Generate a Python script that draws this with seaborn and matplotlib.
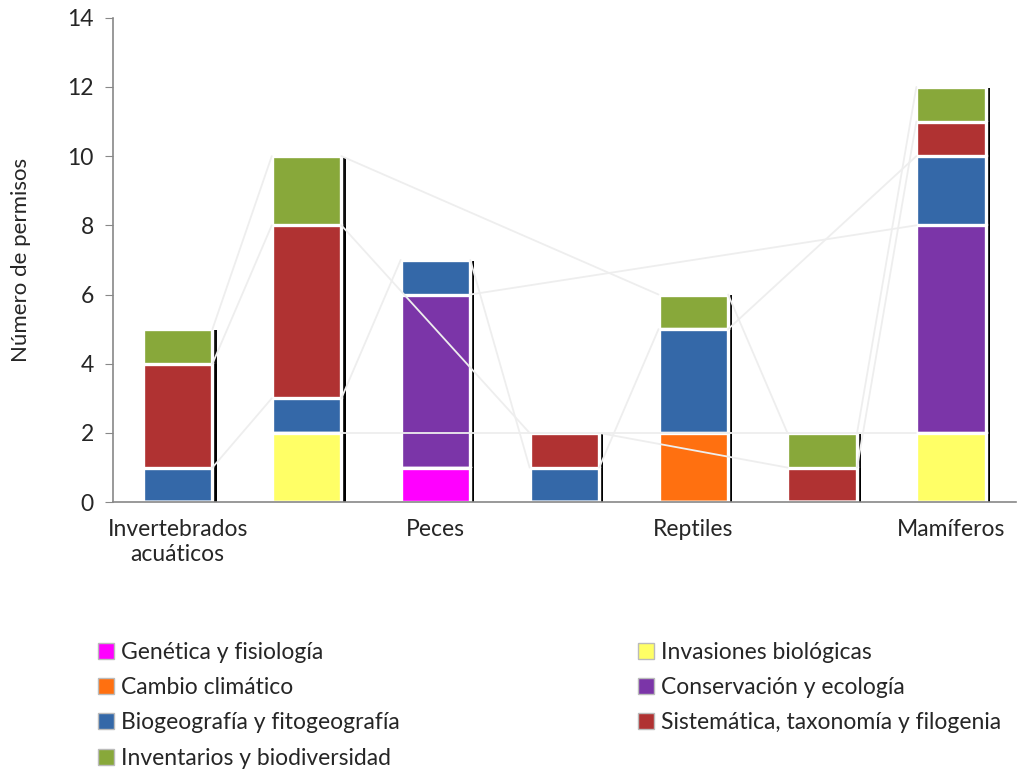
import numpy as np
import pandas as pd
import seaborn as sns
import matplotlib.pyplot as plt
import matplotlib.patheffects as pe
from matplotlib.patches import Patch

# categorias (solo se ven algunas etiquetas en el eje)
categorias = ["Invertebrados acuáticos", "Invertebrados terrestres", "Peces",
              "Anfibios", "Reptiles", "Aves", "Mamíferos"]
etiquetas_x = ["Invertebrados\nacuáticos", "", "Peces", "", "Reptiles", "", "Mamíferos"]

series = ["Genética y fisiología", "Invasiones biológicas", "Cambio climático",
          "Conservación y ecología", "Biogeografía y fitogeografía",
          "Sistemática, taxonomía y filogenia", "Inventarios y biodiversidad"]

genetica     = [0, 0, 1, 0, 0, 0, 0]
invasiones   = [0, 2, 0, 0, 0, 0, 2]
cambio       = [0, 0, 0, 0, 2, 0, 0]
conservacion = [0, 0, 5, 0, 0, 0, 6]
biogeografia = [1, 1, 1, 1, 3, 0, 2]
sistematica  = [3, 5, 0, 1, 0, 1, 1]
inventarios  = [1, 2, 0, 0, 1, 1, 1]

colores = ["#FF00FF", "#FFFF66", "#FF7010", "#7B35A8", "#3468A8", "#B03232", "#88A83A"]

valores = np.array([genetica, invasiones, cambio, conservacion,
                    biogeografia, sistematica, inventarios], dtype=float)
acumulado = np.cumsum(valores, axis=0)

filas = []
for s, nombre in enumerate(series):
    for c, cat in enumerate(categorias):
        filas.append({"serie": nombre, "categoria": cat, "valor": valores[s, c],
                      "tope": acumulado[s, c]})
df = pd.DataFrame(filas)

sns.set_style("white")
plt.rcParams['font.family'] = ['Lato', 'DejaVu Sans']

fig = plt.figure(figsize=(10.29, 7.69), dpi=100)
ax = fig.add_axes([0.110, 0.347, 0.877, 0.630])

ancho = 0.54
sombra = [pe.SimplePatchShadow(offset=(3, -0.5), shadow_rgbFace="black", alpha=0.95),
          pe.Normal()]

# barras apiladas: se dibuja de arriba hacia abajo, cada capa tapa la anterior
for s in range(len(series) - 1, -1, -1):
    sub = df[df["serie"] == series[s]]
    sns.barplot(data=sub, x="categoria", y="tope", order=categorias, color=colores[s],
                width=ancho, saturation=1, edgecolor="white", linewidth=2.4,
                errorbar=None, ax=ax)
for p in ax.patches:
    p.set_path_effects(sombra)

# lineas de serie (muy tenues)
for s in range(len(series)):
    presentes = [c for c in range(len(categorias)) if valores[s, c] > 0]
    for a, b in zip(presentes[:-1], presentes[1:]):
        ax.plot([a + ancho / 2, b - ancho / 2], [acumulado[s, a], acumulado[s, b]],
                color="#eeeeee", lw=1.3, zorder=5)

ax.set_xlim(-0.5, len(categorias) - 0.5)
ax.set_ylim(0, 14)
ax.set_yticks(range(0, 15, 2))
ax.set_xticks(range(len(categorias)))
ax.set_xticklabels(etiquetas_x, fontsize=16.5, linespacing=1.25)
ax.tick_params(axis="y", labelsize=16.5, length=6, color="#888888", direction="out",
               left=True, pad=8)
ax.tick_params(axis="x", length=0, pad=12)
ax.set_xlabel("")
ax.set_ylabel("Número de permisos", fontsize=16, labelpad=26)
for lado in ["top", "right"]:
    ax.spines[lado].set_visible(False)
for lado in ["left", "bottom"]:
    ax.spines[lado].set_color("#888888")
    ax.spines[lado].set_linewidth(1.2)

# leyenda en dos columnas (orden por columnas)
orden = [0, 2, 4, 6, 1, 3, 5]
handles = [Patch(facecolor=colores[i], edgecolor="#bbbbbb", label=series[i]) for i in orden]
fig.legend(handles=handles, loc="upper left", bbox_to_anchor=(0.075, 0.192), ncol=2,
           frameon=False, fontsize=16.5, handlelength=0.7, handleheight=0.7,
           handletextpad=0.3, labelspacing=0.62, columnspacing=10.4)

fig.savefig("out.png", dpi=100)
